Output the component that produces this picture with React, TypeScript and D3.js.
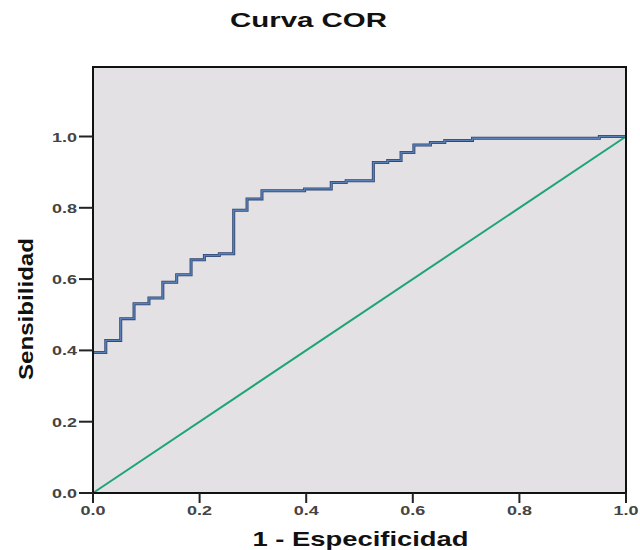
import React from "react";
import * as d3 from "d3";

const title = "Curva COR";
const xLabel = "1 - Especificidad";
const yLabel = "Sensibilidad";
const tickValues = [0, 0.2, 0.4, 0.6, 0.8, 1.0];

const fpr = [0, 0.024, 0.052, 0.077, 0.105, 0.131, 0.157, 0.184, 0.209, 0.237, 0.264, 0.289, 0.317, 0.397, 0.447, 0.475, 0.526, 0.553, 0.578, 0.602, 0.633, 0.66, 0.712, 0.95, 1.0];
const tpr = [0.394, 0.428, 0.489, 0.531, 0.547, 0.591, 0.612, 0.654, 0.666, 0.671, 0.793, 0.825, 0.848, 0.853, 0.871, 0.876, 0.927, 0.933, 0.955, 0.976, 0.983, 0.989, 0.995, 1.0, 1.0];
const refX = [0, 1];
const refY = [0, 1];

export default function App() {
  const W = 640, H = 550;
  const left = 93, right = 626, top = 67, bottom = 493;
  const x = d3.scaleLinear().domain([0, 1]).range([left, right]);
  const yy = d3.scaleLinear().domain([0, 1]).range([bottom, bottom - 356.5]);

  const roc = d3.line<number>().x((_, i) => x(fpr[i])).y((_, i) => yy(tpr[i])).curve(d3.curveStepAfter)(fpr) || "";
  const diag = d3.line<number>().x((_, i) => x(refX[i])).y((_, i) => yy(refY[i]))(refX) || "";
  const font = "'Liberation Sans', Arial, sans-serif";

  return (
    <svg width={W} height={H} style={{ position: "absolute", left: 0, top: 0, background: "#fff" }} fontFamily={font}>
      <text x={308.5} y={27} textAnchor="middle" fontSize={21} fontWeight="bold" fill="#111" textLength={157} lengthAdjust="spacingAndGlyphs">{title}</text>
      <rect x={left} y={top} width={right - left} height={bottom - top} fill="#e3e1e3" />
      <path d={diag} stroke="#1fa474" strokeWidth={2} fill="none" />
      <path d={roc} stroke="#2f4670" strokeWidth={3} fill="none" strokeLinejoin="miter" />
      <path d={roc} stroke="#5a80b8" strokeWidth={1.4} fill="none" strokeLinejoin="miter" />
      <rect x={left} y={top} width={right - left} height={bottom - top} fill="none" stroke="#111" strokeWidth={2} />
      {tickValues.map((v) => (
        <g key={"y" + v}>
          <line x1={left - 14} x2={left} y1={yy(v)} y2={yy(v)} stroke="#222" strokeWidth={2} />
          <text x={77} y={yy(v) + 5} textAnchor="end" fontSize={13} fontWeight="bold" fill="#444" textLength={25} lengthAdjust="spacingAndGlyphs">{v.toFixed(1)}</text>
        </g>
      ))}
      {tickValues.map((v) => (
        <g key={"x" + v}>
          <line x1={x(v)} x2={x(v)} y1={bottom} y2={bottom + 10} stroke="#222" strokeWidth={2} />
          <text x={x(v)} y={515} textAnchor="middle" fontSize={13} fontWeight="bold" fill="#444" textLength={25} lengthAdjust="spacingAndGlyphs">{v.toFixed(1)}</text>
        </g>
      ))}
      <text x={360.5} y={546} textAnchor="middle" fontSize={21} fontWeight="bold" fill="#111" textLength={216} lengthAdjust="spacingAndGlyphs">{xLabel}</text>
      <text transform={`translate(33,${309}) rotate(-90)`} textAnchor="middle" fontSize={21} fontWeight="bold" fill="#111" textLength={142} lengthAdjust="spacingAndGlyphs">{yLabel}</text>
    </svg>
  );
}
